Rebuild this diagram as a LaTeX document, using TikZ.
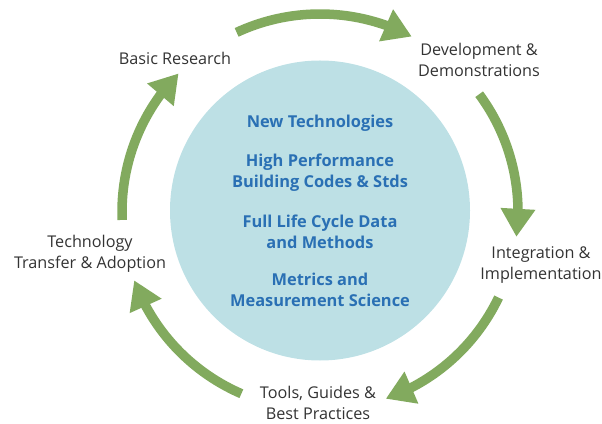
\documentclass[tikz,border=0pt]{standalone}
\usepackage{fontspec}
\setmainfont{Open Sans}
\usetikzlibrary{arrows.meta,bending,calc}
\definecolor{cycgreen}{HTML}{82AA5E}
\definecolor{corefill}{HTML}{BDE0E5}
\definecolor{coreblue}{HTML}{2A70B4}
\definecolor{labgray}{HTML}{333333}
\begin{document}
\begin{tikzpicture}[x=1pt,y=1pt,
  cycarrow/.style={draw=cycgreen, line width=9.5pt, -{Triangle[width=33pt,length=28pt]}},
  stage/.style={text=labgray, font=\fontsize{16.2}{21}\selectfont, align=center, inner sep=0pt},
  theme/.style={text=coreblue, font=\bfseries\fontsize{16.4}{20.5}\selectfont, align=center, inner sep=0pt}]
\useasboundingbox (0,0) rectangle (602,423);
% central disc
\node[circle, fill=corefill, minimum size=300pt, inner sep=0pt] (core) at (320,212.5) {};
\node[theme] (t1) at (320,300) {New Technologies};
\node[theme] (t2) at (320,250.5) {High Performance\\Building Codes \& Stds};
\node[theme] (t3) at (320,191) {Full Life Cycle Data\\and Methods};
\node[theme] (t4) at (320,133) {Metrics and\\Measurement Science};
% stage labels
\node[stage] (basic) at (175,365) {Basic Research};
\node[stage] (dev) at (479,363) {Development \&\\Demonstrations};
\node[stage] (integ) at (541,158) {Integration \&\\Implementation};
\node[stage] (tools) at (318,20.5) {Tools, Guides \&\\Best Practices};
\node[stage] (tech) at (90,169) {Technology\\Transfer \& Adoption};
% cycle arrows
\coordinate (hub) at (320,211);
\coordinate (a1) at ($(hub)+(114.9:198pt)$);
\coordinate (a2) at ($(hub)+(36.5:198pt)$);
\coordinate (a3) at ($(hub)+(-25.6:198pt)$);
\coordinate (a4) at ($(hub)+(-113.4:198pt)$);
\coordinate (a5) at ($(hub)+(182.3:198pt)$);
\draw[cycarrow] (a1) arc[start angle=114.9, end angle=62.4, radius=198pt];
\draw[cycarrow] (a2) arc[start angle=36.5, end angle=-7.2, radius=198pt];
\draw[cycarrow] (a3) arc[start angle=-25.6, end angle=-70.6, radius=198pt];
\draw[cycarrow] (a4) arc[start angle=-113.4, end angle=-159.8, radius=198pt];
\draw[cycarrow] (a5) arc[start angle=182.3, end angle=135.6, radius=198pt];
\end{tikzpicture}
\end{document}
